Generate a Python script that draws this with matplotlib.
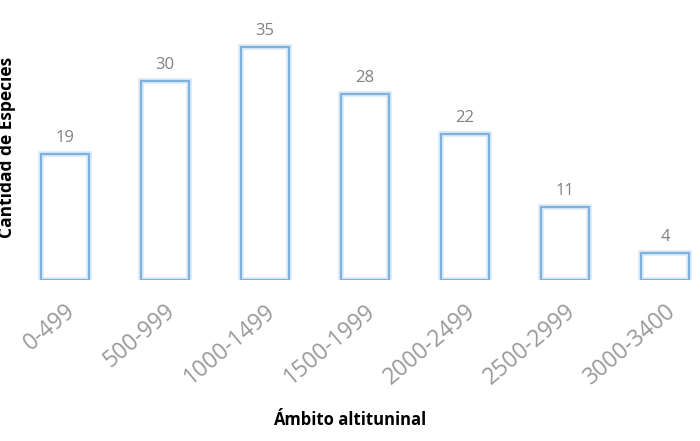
import matplotlib.pyplot as plt
from matplotlib.transforms import ScaledTranslation

categorias = ["0-499", "500-999", "1000-1499", "1500-1999", "2000-2499", "2500-2999", "3000-3400"]
especies = [19, 30, 35, 28, 22, 11, 4]

plt.rcParams['font.family'] = ['Open Sans', 'DejaVu Sans']

fig = plt.figure(figsize=(7, 4.41), dpi=100)
ax = fig.add_axes([0, 161 / 441, 1, 266 / 441])

x = range(len(categorias))

# soft glow under the outline
ax.bar(x, especies, width=0.48, facecolor='white', edgecolor='#d6e8f8', linewidth=4)
ax.bar(x, especies, width=0.48, facecolor='none', edgecolor='#7fb0de', linewidth=1.5)

for xi, v in zip(x, especies):
    ax.text(xi, v + 1.2, str(v), ha='center', va='bottom', color='#808080', fontsize=12)

ax.set_xlim(-0.65, 6.35)
ax.set_ylim(0, 40)
ax.set_xticks(list(x))
ax.set_xticklabels(categorias, rotation=40, ha='right', rotation_mode='anchor',
                   color='#9a9a9a', fontsize=16.5)
shift = ScaledTranslation(14 / 100, 0, fig.dpi_scale_trans)
for lbl in ax.get_xticklabels():
    lbl.set_transform(lbl.get_transform() + shift)
ax.tick_params(axis='x', length=0, pad=14)
ax.set_yticks([])
for s in ax.spines.values():
    s.set_visible(False)

fig.text(0.5, 1 - 420 / 441, "Ámbito altituninal", ha='center', va='center',
         fontsize=12, fontweight='bold', color='black')
fig.text(-2 / 700, 1 - 147 / 441, "Cantidad de Especies", rotation=90, ha='left', va='center',
         fontsize=12.5, fontweight='bold', color='black')

plt.savefig("out.png", dpi=100)
